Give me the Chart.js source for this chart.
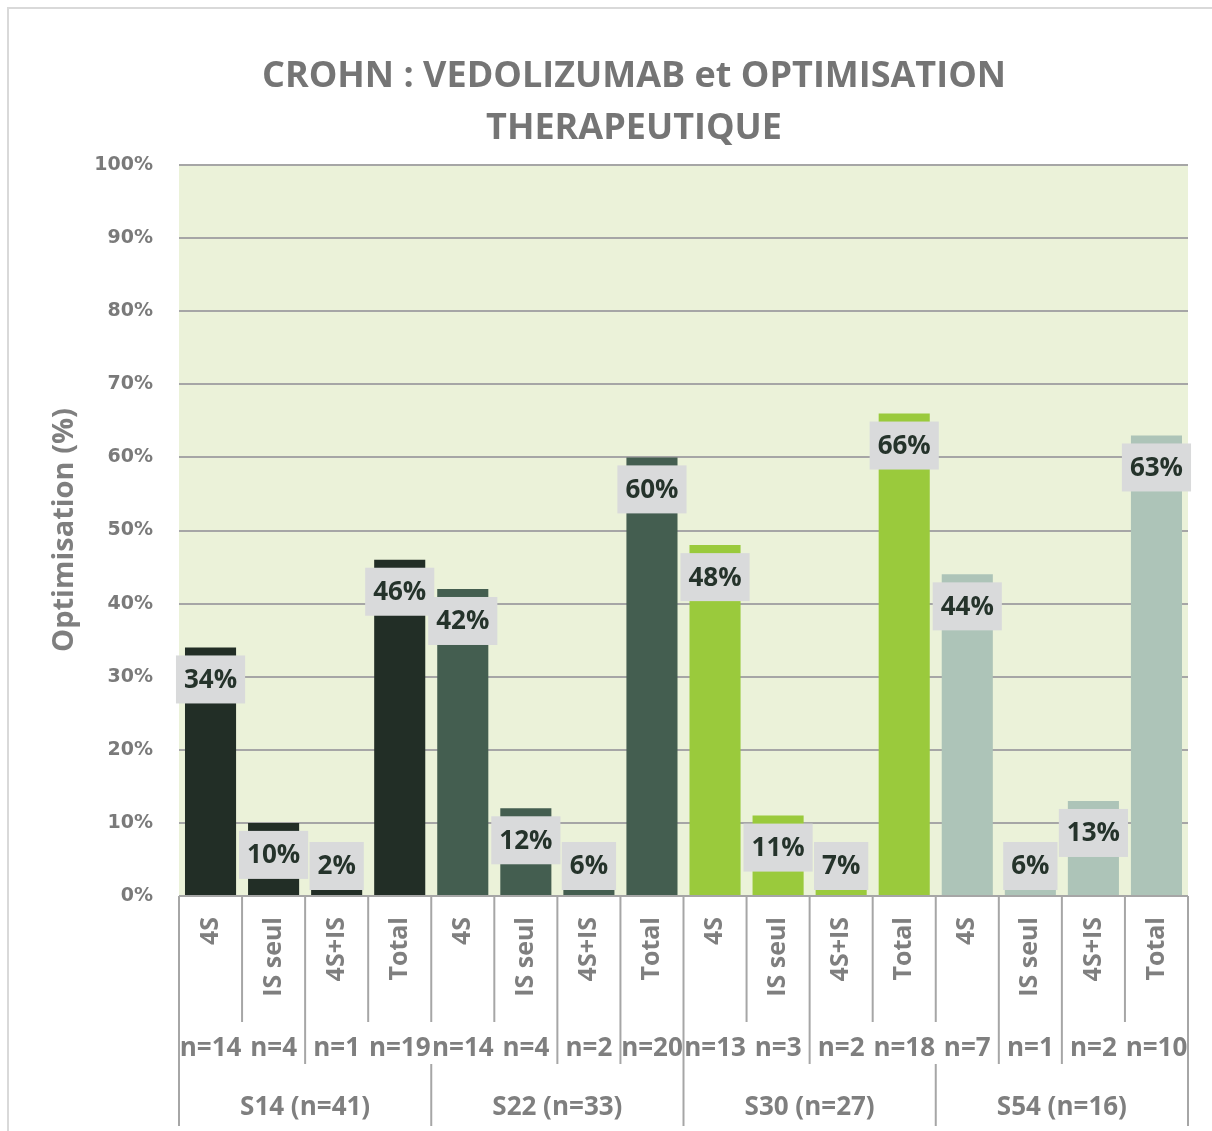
<!DOCTYPE html>
<html>
<head>
<meta charset="utf-8">
<script src="https://cdn.jsdelivr.net/npm/chart.js@4"></script>
<style>
  html, body { margin: 0; padding: 0; background: #fff; }
  #frame { position: absolute; left: 7px; top: 7px; width: 1230px; height: 1150px; border: 2px solid #d9d9d9; box-sizing: border-box; }
  #wrap { position: absolute; left: 0; top: 0; width: 1212px; height: 1131px; }
</style>
</head>
<body>
<div id="frame"></div>
<div id="wrap"><canvas id="myChart"></canvas></div>
<script>
// --- data ---
const categories = ["4S", "IS seul", "4S+IS", "Total", "4S", "IS seul", "4S+IS", "Total",
                    "4S", "IS seul", "4S+IS", "Total", "4S", "IS seul", "4S+IS", "Total"];
const subLabels = ["n=14", "n=4", "n=1", "n=19", "n=14", "n=4", "n=2", "n=20",
                   "n=13", "n=3", "n=2", "n=18", "n=7", "n=1", "n=2", "n=10"];
const groups = ["S14 (n=41)", "S22 (n=33)", "S30 (n=27)", "S54 (n=16)"];
// bar heights as drawn (%)
const barValues = [34, 10, 1, 46, 42, 12, 1, 60, 48, 11, 1, 66, 44, 1, 13, 63];
// values printed on the labels (%)
const labelValues = [34, 10, 2, 46, 42, 12, 6, 60, 48, 11, 7, 66, 44, 6, 13, 63];
const groupColors = ["#222e26", "#445e50", "#9aca3c", "#adc4b8"];
const yTicks = [0, 10, 20, 30, 40, 50, 60, 70, 80, 90, 100];

const GRAY = "#7f7f7f";
const LINE = "#a6a6a6";

// couleur par barre = couleur du groupe
const barColors = categories.map((_, i) => groupColors[Math.floor(i / 4)]);

// fond vert pale de la zone de tracé
const plotBg = {
  id: "plotBg",
  beforeDraw(chart) {
    const { ctx, chartArea: a } = chart;
    ctx.save();
    ctx.fillStyle = "#ebf2d9";
    ctx.fillRect(a.left, a.top, a.right - a.left, a.bottom - a.top);
    ctx.restore();
  }
};

// étiquettes de valeurs (boîte grise)
const valueLabels = {
  id: "valueLabels",
  afterDatasetsDraw(chart) {
    const { ctx } = chart;
    const base = chart.scales.y.getPixelForValue(0);
    const meta = chart.getDatasetMeta(0);
    ctx.save();
    ctx.font = "bold 26px 'Open Sans'";
    ctx.textAlign = "center";
    ctx.textBaseline = "middle";
    meta.data.forEach((bar, i) => {
      const txt = labelValues[i] + "%";
      const cy = Math.min(bar.y + 32, base - 30);
      const tw = ctx.measureText(txt).width + 16;
      ctx.fillStyle = "#d9dadb";
      ctx.fillRect(bar.x - tw / 2, cy - 24, tw, 48);
      ctx.fillStyle = "#25332b";
      ctx.fillText(txt, bar.x, cy + 1);
    });
    ctx.restore();
  }
};

// axe X à trois niveaux + titres
const levels = {
  id: "levels",
  afterDraw(chart) {
    const { ctx, chartArea: a, scales: { x } } = chart;
    const w = x.getPixelForValue(1) - x.getPixelForValue(0);
    const edge = (i) => x.getPixelForValue(0) - w / 2 + i * w;
    ctx.save();
    ctx.strokeStyle = LINE;
    ctx.lineWidth = 2;
    const vline = (xx, y1, y2) => {
      ctx.beginPath(); ctx.moveTo(xx, y1); ctx.lineTo(xx, y2); ctx.stroke();
    };
    // niveau 1
    for (let i = 0; i <= categories.length; i++) vline(edge(i), a.bottom, a.bottom + 126);
    // niveau 2 (séparateurs visibles seulement là où le texte ne déborde pas)
    [0, 2, 6, 7, 8, 10, 13, 14, 16].forEach(i => vline(edge(i), a.bottom + 126, a.bottom + 168));
    // niveau 3
    for (let g = 0; g <= groups.length; g++) vline(edge(g * 4), a.bottom + 168, a.bottom + 230);

    ctx.fillStyle = GRAY;
    // étiquettes pivotées
    ctx.font = "bold 25px 'Open Sans'";
    ctx.textAlign = "right";
    ctx.textBaseline = "middle";
    categories.forEach((c, i) => {
      ctx.save();
      ctx.translate(x.getPixelForValue(i), a.bottom + 21);
      ctx.rotate(-Math.PI / 2);
      ctx.fillText(c, 0, 0);
      ctx.restore();
    });
    // n=
    ctx.font = "bold 26px 'Open Sans'";
    ctx.textAlign = "center";
    subLabels.forEach((s, i) => ctx.fillText(s, x.getPixelForValue(i), a.bottom + 153));
    // groupes
    ctx.font = "bold 26px 'Open Sans'";
    groups.forEach((g, k) => ctx.fillText(g, (edge(k * 4) + edge(k * 4 + 4)) / 2, a.bottom + 212));

    // titre
    ctx.fillStyle = "#757575";
    ctx.font = "bold 36px 'Open Sans'";
    ctx.fillText("CROHN : VEDOLIZUMAB et OPTIMISATION", 634, 77);
    ctx.fillText("THERAPEUTIQUE", 634, 129);

    // titre axe Y
    ctx.fillStyle = GRAY;
    ctx.font = "bold 29px 'Open Sans'";
    ctx.translate(65, 530);
    ctx.rotate(-Math.PI / 2);
    ctx.fillText("Optimisation (%)", 0, 0);
    ctx.restore();
  }
};

new Chart(document.getElementById("myChart"), {
  type: "bar",
  data: {
    labels: categories,
    datasets: [{
      data: barValues,
      backgroundColor: barColors,
      barPercentage: 0.81,
      categoryPercentage: 1
    }]
  },
  options: {
    responsive: true,
    maintainAspectRatio: false,
    animation: false,
    layout: { padding: { top: 165, right: 24, bottom: 0, left: 0 } },
    plugins: {
      legend: { display: false },
      title: { display: false },
      tooltip: { enabled: false }
    },
    scales: {
      x: {
        grid: { display: false },
        border: { display: false },
        ticks: { display: false },
        afterFit: (s) => { s.height = 235; }
      },
      y: {
        min: 0,
        max: 100,
        afterFit: (s) => { s.width = 179; },
        afterBuildTicks: (s) => { s.ticks = yTicks.map(v => ({ value: v })); },
        grid: { color: LINE, lineWidth: 2, drawTicks: false },
        border: { display: false },
        ticks: {
          padding: 26,
          color: "#7a7a7a",
          font: { family: "'DejaVu Sans'", size: 19, weight: "bold" },
          callback: (v) => v + "%"
        }
      }
    }
  },
  plugins: [plotBg, valueLabels, levels]
});
</script>
</body>
</html>
